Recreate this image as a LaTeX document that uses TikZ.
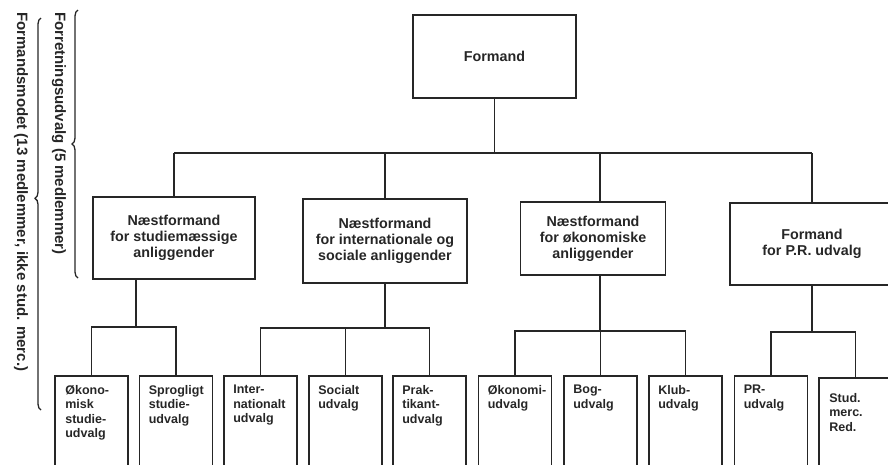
\documentclass[tikz,border=0pt]{standalone}
\usepackage{fontspec}
\setmainfont{Liberation Sans}
\usepackage{tikz}
\usetikzlibrary{positioning,
				decorations.pathreplacing}

\tikzset{
	office/.style={draw=black!85, line width=1.7pt, align=center, inner sep=0pt,
		text=black!85, font=\bfseries\fontsize{14.3}{16}\selectfont},
	boxsize/.style 2 args={minimum width=#1pt, minimum height=#2pt},
	unit/.style={draw=black!85, line width=1.7pt, anchor=north,
		minimum width=73pt, minimum height=110pt},
	unittext/.style={align=left, inner sep=0pt, text=black!85,
		font=\bfseries\fontsize{12.5}{14.5}\selectfont},
	wire/.style={draw=black!85, line width=1.6pt},
	side/.style={rotate=-90, anchor=west, inner sep=0pt, text=black!85,
		font=\bfseries\fontsize{15}{17}\selectfont},
	bracket/.style={draw=black!85, line width=1.3pt, decorate,
		decoration={brace, amplitude=6pt, aspect=#1}}
}

\begin{document}
\begin{tikzpicture}[x=1pt,y=1pt]
	\useasboundingbox (0,0) rectangle (888,-464);
	\clip (0,0) rectangle (888,-464);

	% ledelse
	\node[office, boxsize={163}{83}] (formand) at (494.5,-56.5) {Formand};

	\node[office, boxsize={162}{82}] (studie) at (174,-238)
		{N\ae stformand\\for studiem\ae ssige\\anliggender};
	\node[office, boxsize={164}{84}] (intsoc) at (385,-241)
		{N\ae stformand\\for internationale og\\sociale anliggender};
	\node[office, boxsize={145}{73}] (oekon) at (593,-238.5)
		{N\ae stformand\\for \o konomiske\\anliggender};
	\node[office, boxsize={164}{82}] (pr) at (812,-244)
		{Formand\\for P.R. udvalg};

	% udvalg
	\node[unit] (oekstud) at (91.5,-375) {};
	\node[unit] (sprog) at (176,-375) {};
	\node[unit] (inter) at (260.5,-375) {};
	\node[unit] (social) at (345.5,-375) {};
	\node[unit] (prak) at (429.5,-375) {};
	\node[unit] (oekudv) at (515,-375) {};
	\node[unit] (bog) at (600.5,-375) {};
	\node[unit] (klub) at (685.5,-375) {};
	\node[unit] (prudv) at (771,-375) {};
	\node[unit] (red) at (855.5,-377) {};

	\node[unittext, below right=10pt and 11pt of oekstud.north west] {\O kono-\\misk\\studie-\\udvalg};
	\node[unittext, below right=10pt and 10pt of sprog.north west] {Sprogligt\\studie-\\udvalg};
	\node[unittext, below right=10pt and 10pt of inter.north west] {Inter-\\nationalt\\udvalg};
	\node[unittext, below right=10pt and 10pt of social.north west] {Socialt\\udvalg};
	\node[unittext, below right=10pt and 10pt of prak.north west] {Prak-\\tikant-\\udvalg};
	\node[unittext, below right=10pt and 10pt of oekudv.north west] {\O konomi-\\udvalg};
	\node[unittext, below right=10pt and 10pt of bog.north west] {Bog-\\udvalg};
	\node[unittext, below right=10pt and 10pt of klub.north west] {Klub-\\udvalg};
	\node[unittext, below right=10pt and 10pt of prudv.north west] {PR-\\udvalg};
	\node[unittext, below right=16pt and 11pt of red.north west] {Stud.\\merc.\\Red.};

	% forbindelser
	\coordinate (bus) at (0,-153);
	\coordinate (j1) at (136,-327);
	\coordinate (j2) at (385,-328);
	\coordinate (j3) at (600,-331);
	\coordinate (j4) at (812,-332);

	\draw[wire] (formand) -- (formand |- bus);
	\draw[wire] (bus -| studie.north) -- (bus -| pr.north);
	\draw[wire] (bus -| studie.north) -- (studie.north);
	\draw[wire] (bus -| intsoc.north) -- (intsoc.north);
	\draw[wire] (bus -| j3) -- (oekon.north -| j3);
	\draw[wire] (bus -| pr.north) -- (pr.north);

	\draw[wire] (studie.south -| j1) -- (j1);
	\draw[wire] (oekstud.north) |- (j1) -| (sprog.north);

	\draw[wire] (intsoc.south -| j2) -- (j2);
	\draw[wire] (inter.north) |- (j2) -| (prak.north);
	\draw[wire] (j2 -| social.north) -- (social.north);

	\draw[wire] (oekon.south -| j3) -- (j3);
	\draw[wire] (oekudv.north) |- (j3) -| (klub.north);
	\draw[wire] (j3 -| bog.north) -- (bog.north);

	\draw[wire] (pr.south -| j4) -- (j4);
	\draw[wire] (prudv.north) |- (j4) -| (red.north);

	% sidetekst
	\node[side] (forr) at (59,-12) {Forretningsudvalg (5 medlemmer)};
	\node[side] (fmod) at (21,-12) {Formandsmodet (13 medlemmer, ikke stud. merc.)};
	\draw[bracket=0.5] (78,-278) -- (78,-10);
	\draw[bracket=0.54] (41,-410) -- (41,-18);
\end{tikzpicture}
\end{document}
